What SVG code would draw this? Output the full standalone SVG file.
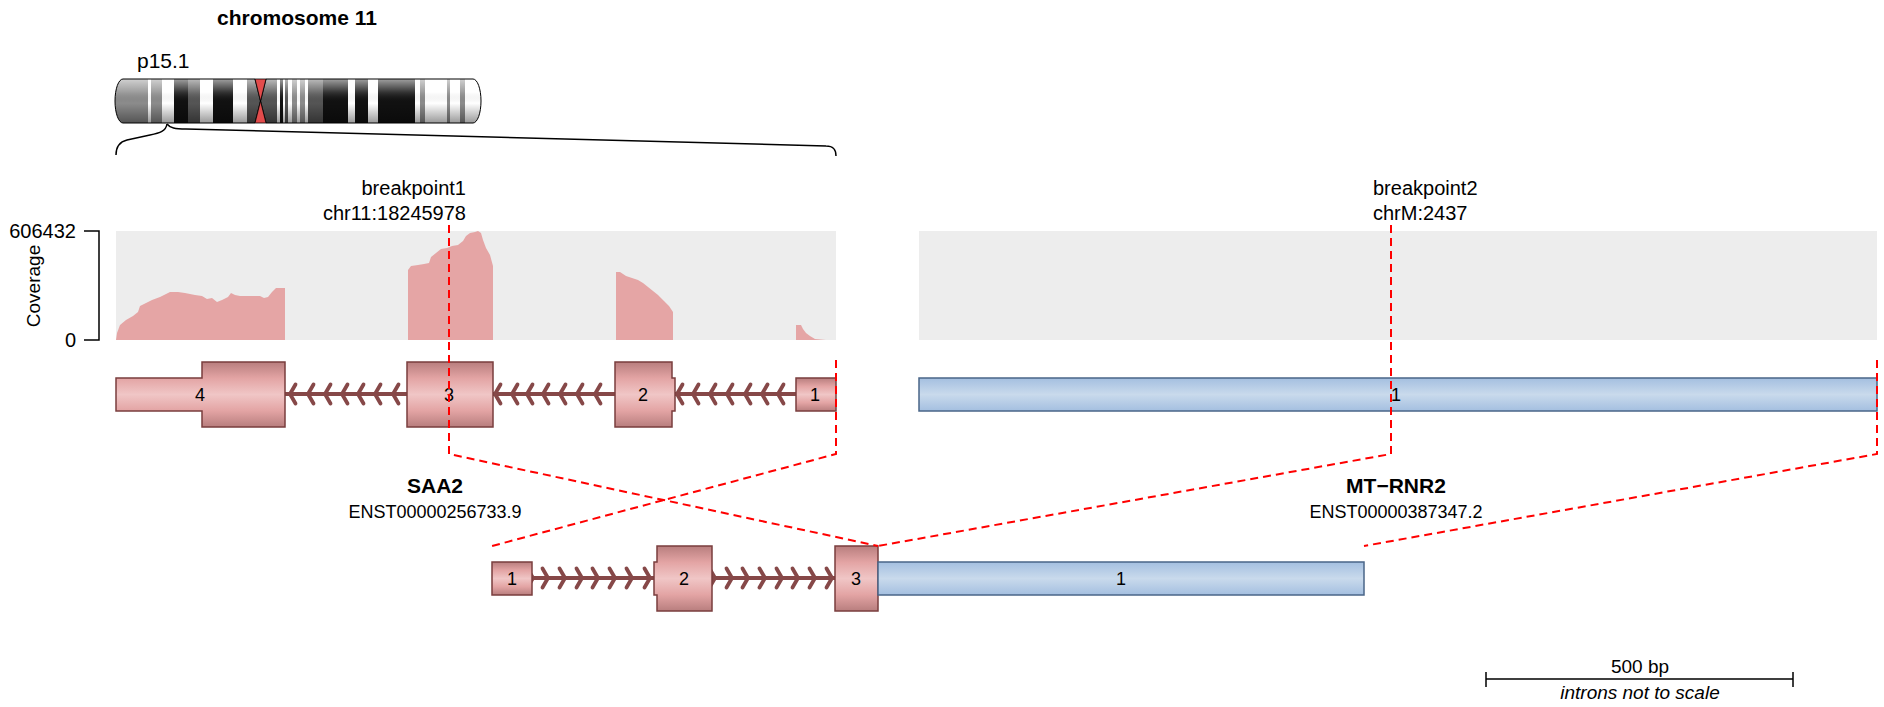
<svg xmlns="http://www.w3.org/2000/svg" xmlns:xlink="http://www.w3.org/1999/xlink" width="1884" height="707" viewBox="0 0 1884 707">
<style>
text{font-family:"Liberation Sans",Arial,sans-serif;fill:#000}
.t21{font-size:21px}
.t20{font-size:20px}
.t19{font-size:19px}
.t18{font-size:18px}
.b{font-weight:bold}
.mid{text-anchor:middle}
.end{text-anchor:end}
.exon{fill:url(#pinkGrad);stroke:#7A3E3E;stroke-width:1.5}
.bexon{fill:url(#blueGrad);stroke:#4A6688;stroke-width:1.5}
.intron{stroke:#864848;stroke-width:4;fill:none}
.chev{stroke:#864848;stroke-width:3.8;fill:none;stroke-linecap:round;stroke-linejoin:round}
.dash{stroke:#FF0000;stroke-width:2;stroke-dasharray:8 5;fill:none}
.cov{fill:#E5A5A5}
.bg{fill:#EDEDED}
.ax{stroke:#000;stroke-width:1.5;fill:none}
.w{fill:#FFFFFF}.g{fill:#8C8C8C}.d{fill:#555555}.k{fill:#111111}.l{fill:#C8C8C8}
</style>
<defs>
<linearGradient id="pinkGrad" x1="0" y1="0" x2="0" y2="1">
<stop offset="0" stop-color="#B87E7E"/><stop offset="0.25" stop-color="#E3A4A4"/><stop offset="0.5" stop-color="#F0C6C6"/><stop offset="0.75" stop-color="#E3A4A4"/><stop offset="1" stop-color="#B87E7E"/>
</linearGradient>
<linearGradient id="blueGrad" x1="0" y1="0" x2="0" y2="1">
<stop offset="0" stop-color="#A4BFE0"/><stop offset="0.5" stop-color="#C9DAEC"/><stop offset="1" stop-color="#A4BFE0"/>
</linearGradient>
<linearGradient id="shade" x1="0" y1="0" x2="0" y2="1">
<stop offset="0" stop-color="#FFFFFF" stop-opacity="0.6"/><stop offset="0.3" stop-color="#FFFFFF" stop-opacity="0.15"/><stop offset="0.55" stop-color="#000000" stop-opacity="0"/><stop offset="1" stop-color="#000000" stop-opacity="0.4"/>
</linearGradient>
<clipPath id="pclip"><path d="M123,79 H255 L260.5,101 L255,123 H123 A8,22 0 0 1 115,101 A8,22 0 0 1 123,79 Z"/></clipPath>
<clipPath id="qclip"><path d="M266,79 H473 A8,22 0 0 1 481,101 A8,22 0 0 1 473,123 H266 L260.5,101 Z"/></clipPath>
<path id="chL" class="chev" d="M5.5,-9.5 L0,0 L5.5,9.5"/>
<path id="chR" class="chev" d="M-5.5,-9.5 L0,0 L-5.5,9.5"/>
</defs>
<rect width="1884" height="707" fill="#FFFFFF"/>

<g id="ideogram">
<text class="t21 b mid" x="297" y="25">chromosome 11</text>
<text class="t21" x="137" y="68">p15.1</text>
<g clip-path="url(#pclip)">
<rect class="g" x="113" y="79" width="35" height="44"/>
<rect class="w" x="148" y="79" width="3" height="44"/>
<rect class="g" x="151" y="79" width="11" height="44"/>
<rect class="w" x="162" y="79" width="12" height="44"/>
<rect class="k" x="174" y="79" width="14" height="44"/>
<rect class="d" x="188" y="79" width="12" height="44"/>
<rect class="w" x="200" y="79" width="13" height="44"/>
<rect class="k" x="213" y="79" width="20" height="44"/>
<rect class="w" x="233" y="79" width="14" height="44"/>
<rect class="d" x="247" y="79" width="15" height="44"/>
<rect x="113" y="79" width="150" height="44" fill="url(#shade)"/>
</g>
<g clip-path="url(#qclip)">
<rect class="d" x="259" y="79" width="18" height="44"/>
<rect class="w" x="277" y="79" width="3" height="44"/>
<rect class="k" x="280" y="79" width="3" height="44"/>
<rect class="w" x="283" y="79" width="2" height="44"/>
<rect class="d" x="285" y="79" width="3" height="44"/>
<rect class="w" x="288" y="79" width="4" height="44"/>
<rect class="g" x="292" y="79" width="5" height="44"/>
<rect class="w" x="297" y="79" width="3" height="44"/>
<rect class="g" x="300" y="79" width="5" height="44"/>
<rect class="w" x="305" y="79" width="3" height="44"/>
<rect class="d" x="308" y="79" width="15" height="44"/>
<rect class="k" x="323" y="79" width="25" height="44"/>
<rect class="w" x="348" y="79" width="7" height="44"/>
<rect class="k" x="355" y="79" width="13" height="44"/>
<rect class="w" x="368" y="79" width="10" height="44"/>
<rect class="k" x="378" y="79" width="37" height="44"/>
<rect class="w" x="415" y="79" width="5" height="44"/>
<rect class="g" x="420" y="79" width="5" height="44"/>
<rect class="w" x="425" y="79" width="22" height="44"/>
<rect class="g" x="447" y="79" width="3" height="44"/>
<rect class="w" x="450" y="79" width="10" height="44"/>
<rect class="g" x="460" y="79" width="5" height="44"/>
<rect class="w" x="465" y="79" width="18" height="44"/>
<rect x="259" y="79" width="225" height="44" fill="url(#shade)"/>
</g>
<path d="M123,79 H255 L260.5,101 L255,123 H123 A8,22 0 0 1 115,101 A8,22 0 0 1 123,79 Z" fill="none" stroke="#000" stroke-width="1"/>
<path d="M266,79 H473 A8,22 0 0 1 481,101 A8,22 0 0 1 473,123 H266 L260.5,101 Z" fill="none" stroke="#000" stroke-width="1"/>
<path d="M255,79 H266 L260.5,101 Z M255,123 H266 L260.5,101 Z" fill="#E34C4C" stroke="#000" stroke-width="0.8"/>
<path class="ax" d="M167,124 C166,131 160,133 150,135 L127,140 C119,142 116,147 116,155"/>
<path class="ax" d="M167,124 C170,128 175,129 186,129 L826,146 C834,146 836,150 836,156"/>
</g>

<g id="coverage">
<path class="ax" d="M84,231 H99 V340 H84"/>
<text class="t20 end" x="76" y="238">606432</text>
<text class="t20 end" x="76" y="347">0</text>
<text class="t19 mid" transform="translate(40,286) rotate(-90)">Coverage</text>
<rect class="bg" x="116" y="231" width="720" height="109"/>
<rect class="bg" x="919" y="231" width="958" height="109"/>
<path class="cov" d="M116,340 L117,333 L120,325 L126,320 L133,316 L138,312 L140,306 L146,303 L152,300 L160,297 L170,292 L178,292 L185,293 L195,295 L202,296 L207,299 L212,298 L217,302 L222,300 L228,297 L231,293 L235,295 L240,296 L250,296 L260,296 L264,298 L268,297 L272,292 L276,288 L280,288 L285,288 L285,340 Z"/>
<path class="cov" d="M408,340 L408,270 L411,266 L418,265 L424,264 L429,263 L431,257 L436,253 L441,249 L447,248 L452,246 L458,245 L463,241 L466,236 L470,233 L475,232 L478,231 L481,233 L483,240 L486,248 L490,255 L493,266 L493,340 Z"/>
<path class="cov" d="M616,340 L616,272 L620,272 L626,276 L632,278 L638,280 L643,283 L648,287 L653,291 L658,295 L664,301 L669,306 L673,312 L673,340 Z"/>
<path class="cov" d="M796,340 L796,325 L801,325 L803,329 L806,333 L810,336 L815,339 L826,340 Z"/>
</g>

<g id="gene-SAA2">
<path class="intron" d="M285,394 H407 M493,394 H615 M674,394 H796"/>
<use xlink:href="#chL" x="290" y="394"/><use xlink:href="#chL" x="308" y="394"/><use xlink:href="#chL" x="325" y="394"/><use xlink:href="#chL" x="342" y="394"/><use xlink:href="#chL" x="358" y="394"/><use xlink:href="#chL" x="375" y="394"/><use xlink:href="#chL" x="393" y="394"/>
<use xlink:href="#chL" x="495" y="394"/><use xlink:href="#chL" x="512" y="394"/><use xlink:href="#chL" x="527" y="394"/><use xlink:href="#chL" x="543" y="394"/><use xlink:href="#chL" x="560" y="394"/><use xlink:href="#chL" x="577" y="394"/><use xlink:href="#chL" x="595" y="394"/>
<use xlink:href="#chL" x="677" y="394"/><use xlink:href="#chL" x="693" y="394"/><use xlink:href="#chL" x="710" y="394"/><use xlink:href="#chL" x="727" y="394"/><use xlink:href="#chL" x="745" y="394"/><use xlink:href="#chL" x="762" y="394"/><use xlink:href="#chL" x="778" y="394"/>
<path class="exon" d="M116,378 H202 V362 H285 V427 H202 V411 H116 Z"/>
<rect class="exon" x="407" y="362" width="86" height="65"/>
<path class="exon" d="M615,362 H672 V378 H675 V411 H672 V427 H615 Z"/>
<rect class="exon" x="796" y="378" width="40" height="33"/>
<text class="t18 mid" x="200" y="401">4</text>
<text class="t18 mid" x="449" y="401">3</text>
<text class="t18 mid" x="643" y="401">2</text>
<text class="t18 mid" x="815" y="401">1</text>
<text class="t21 b mid" x="435" y="493">SAA2</text>
<text class="t18 mid" x="435" y="518">ENST00000256733.9</text>
</g>

<g id="gene-MT-RNR2">
<rect class="bexon" x="919" y="378" width="958" height="33"/>
<text class="t18 mid" x="1396" y="401">1</text>
<text class="t21 b mid" x="1396" y="493">MT−RNR2</text>
<text class="t18 mid" x="1396" y="518">ENST00000387347.2</text>
</g>

<g id="breakpoint-labels">
<text class="t20 end" x="466" y="195">breakpoint1</text>
<text class="t20 end" x="466" y="220">chr11:18245978</text>
<text class="t20" x="1373" y="195">breakpoint2</text>
<text class="t20" x="1373" y="220">chrM:2437</text>
</g>

<g id="fusion">
<path class="intron" d="M532,578 H655 M712,578 H835"/>
<use xlink:href="#chR" x="533" y="578"/><use xlink:href="#chR" x="548" y="578"/><use xlink:href="#chR" x="565" y="578"/><use xlink:href="#chR" x="582" y="578"/><use xlink:href="#chR" x="598" y="578"/><use xlink:href="#chR" x="615" y="578"/><use xlink:href="#chR" x="632" y="578"/><use xlink:href="#chR" x="650" y="578"/>
<use xlink:href="#chR" x="715" y="578"/><use xlink:href="#chR" x="732" y="578"/><use xlink:href="#chR" x="748" y="578"/><use xlink:href="#chR" x="765" y="578"/><use xlink:href="#chR" x="782" y="578"/><use xlink:href="#chR" x="798" y="578"/><use xlink:href="#chR" x="815" y="578"/><use xlink:href="#chR" x="832" y="578"/>
<rect class="exon" x="492" y="562" width="40" height="33"/>
<path class="exon" d="M657,546 H712 V611 H657 V595 H654 V562 H657 Z"/>
<rect class="exon" x="835" y="546" width="43" height="65"/>
<rect class="bexon" x="878" y="562" width="486" height="33"/>
<text class="t18 mid" x="512" y="585">1</text>
<text class="t18 mid" x="684" y="585">2</text>
<text class="t18 mid" x="856" y="585">3</text>
<text class="t18 mid" x="1121" y="585">1</text>
</g>

<g id="connectors">
<path class="dash" d="M449,225 V454 L878,546"/>
<path class="dash" d="M836,360 V454 L492,546"/>
<path class="dash" d="M1391,225 V454 L878,546"/>
<path class="dash" d="M1877,360 V454 L1364,546"/>
</g>

<g id="scalebar">
<path class="ax" d="M1486,672 V687 M1486,679 H1793 M1793,672 V687"/>
<text class="t19 mid" x="1640" y="673">500 bp</text>
<text class="t19 mid" x="1640" y="699" font-style="italic">introns not to scale</text>
</g>
</svg>
